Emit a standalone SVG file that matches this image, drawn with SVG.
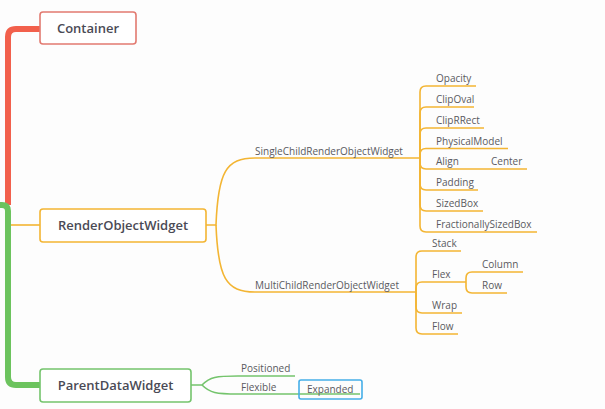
<svg xmlns="http://www.w3.org/2000/svg" width="605" height="409" viewBox="0 0 605 409">
<style>
.node{fill:#fff;stroke-width:1.6}
.main{font-family:"Open Sans","Liberation Sans",sans-serif;font-size:13px;font-weight:600;fill:#4a4a55;text-anchor:middle}
.lbl{font-family:"Open Sans","Liberation Sans",sans-serif;font-size:10px;fill:#5a5a60}
.y{fill:none;stroke:#f3b533;stroke-width:1.6}
.g{fill:none;stroke:#74c46c;stroke-width:1.6}
</style>
<rect width="605" height="409" fill="#fdfdfd"/>
<g id="connectors">
<path d="M40,29 H16 Q8,29 8,37 V205" fill="none" stroke="#f2604c" stroke-width="6"/>
<path d="M0,205 H2 Q8,205 8,211 V377 Q8,385 16,385 H40" fill="none" stroke="#6cc35e" stroke-width="6"/>
<path class="y" d="M11,225 H40"/>
<path class="y" d="M206,225 H216 C218,172 226,158 255,158 H420"/>
<path class="y" d="M216,225 C218,278 226,292 255,292 H416"/>
<path class="y" d="M420,158 V92 Q420,86 426,86 H476"/>
<path class="y" d="M420,158 V113 Q420,107 426,107 H474"/>
<path class="y" d="M420,158 V134 Q420,128 426,128 H484"/>
<path class="y" d="M420,158 V154.5 Q420,148.5 426,148.5 H508"/>
<path class="y" d="M420,158 V163 Q420,169 426,169 H527"/>
<path class="y" d="M420,158 V184 Q420,190 426,190 H478"/>
<path class="y" d="M420,158 V205 Q420,211 426,211 H483"/>
<path class="y" d="M420,158 V226 Q420,232 426,232 H537"/>
<path class="y" d="M416,292 V257 Q416,251 422,251 H461"/>
<path class="y" d="M416,292 V288 Q416,282 422,282 H466"/>
<path class="y" d="M416,292 V307 Q416,313 422,313 H462"/>
<path class="y" d="M416,292 V328 Q416,334 422,334 H458"/>
<path class="y" d="M466,282 V278 Q466,272 472,272 H523"/>
<path class="y" d="M466,282 V287 Q466,293 472,293 H507"/>
<path class="g" d="M191,385 H202 C210,377 216,376 238,376 H295"/>
<path class="g" d="M202,385 C210,393 216,394 238,394 H360"/>
</g>
<g id="container"><rect class="node" x="40" y="12" width="96" height="32" rx="3" stroke="#e27a70"/><text class="main" x="88" y="32.5">Container</text></g>
<g id="renderObjectWidget"><rect class="node" x="40" y="209" width="166" height="33" rx="3" stroke="#f3b533"/><text class="main" x="123" y="230">RenderObjectWidget</text></g>
<g id="parentDataWidget"><rect class="node" x="40" y="369" width="151" height="33" rx="3" stroke="#74c46c"/><text class="main" x="115.5" y="390">ParentDataWidget</text></g>
<g id="singleChild"><text class="lbl" x="255" y="155">SingleChildRenderObjectWidget</text></g>
<g id="multiChild"><text class="lbl" x="255" y="289">MultiChildRenderObjectWidget</text></g>
<g id="opacity"><text class="lbl" x="436" y="82">Opacity</text></g>
<g id="clipOval"><text class="lbl" x="436" y="103">ClipOval</text></g>
<g id="clipRRect"><text class="lbl" x="436" y="124">ClipRRect</text></g>
<g id="physicalModel"><text class="lbl" x="436" y="144.5">PhysicalModel</text></g>
<g id="align"><text class="lbl" x="436" y="165">Align</text></g>
<g id="center"><text class="lbl" x="491" y="165">Center</text></g>
<g id="padding"><text class="lbl" x="436" y="186">Padding</text></g>
<g id="sizedBox"><text class="lbl" x="436" y="207">SizedBox</text></g>
<g id="fractionallySizedBox"><text class="lbl" x="436" y="228">FractionallySizedBox</text></g>
<g id="stack"><text class="lbl" x="432" y="247">Stack</text></g>
<g id="flex"><text class="lbl" x="432" y="278">Flex</text></g>
<g id="column"><text class="lbl" x="482" y="268">Column</text></g>
<g id="row"><text class="lbl" x="482" y="289">Row</text></g>
<g id="wrap"><text class="lbl" x="432" y="309">Wrap</text></g>
<g id="flow"><text class="lbl" x="432" y="330">Flow</text></g>
<g id="positioned"><text class="lbl" x="241" y="372">Positioned</text></g>
<g id="flexible"><text class="lbl" x="241" y="390.5">Flexible</text></g>
<g id="expanded"><rect x="299" y="380" width="63" height="19" rx="2" fill="none" stroke="#45aee8" stroke-width="1.6"/><text class="lbl" x="307" y="392.5">Expanded</text></g>
</svg>
